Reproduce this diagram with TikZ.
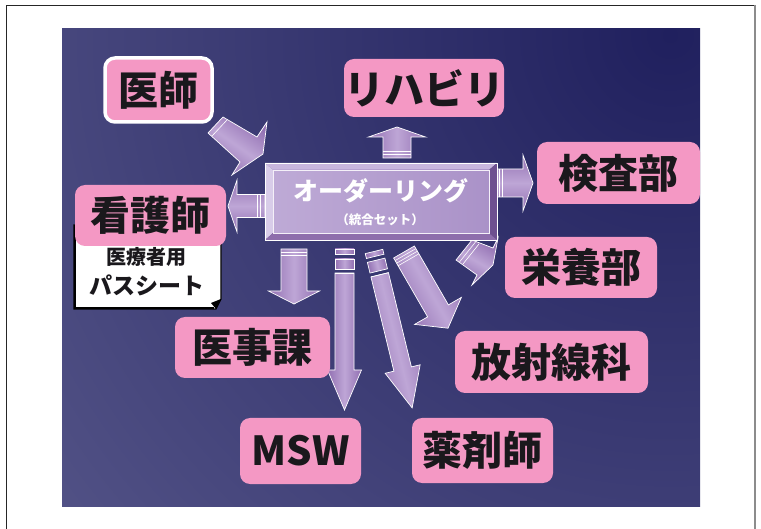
\documentclass[tikz,border=0pt]{standalone}
\usepackage{fontspec}
\setmainfont{Noto Sans CJK JP}
\definecolor{pinkbox}{RGB}{244,152,196}
\definecolor{inktext}{RGB}{26,24,28}
\definecolor{arrL}{RGB}{190,166,214}
\definecolor{arrD}{RGB}{146,112,178}
\definecolor{bgL}{RGB}{92,92,142}
\definecolor{bgD}{RGB}{32,32,94}
\definecolor{bevT}{RGB}{200,182,222}
\definecolor{bevL}{RGB}{216,204,233}
\definecolor{bevR}{RGB}{110,80,144}
\definecolor{bevB}{RGB}{142,110,172}
\definecolor{faceL}{RGB}{190,170,214}
\definecolor{faceR}{RGB}{170,146,200}
\tikzset{
  pinklabel/.style={fill=pinkbox, rounded corners=10pt, inner sep=0pt,
    text=inktext, font=\bfseries\fontsize{40}{40}\selectfont},
  arrowbody/.style={draw=white, line width=0.7pt, top color=arrD, bottom color=arrD, middle color=arrL},
  stripeline/.style={white, line width=0.6pt},
  whitetext/.style={text=white, inner sep=0pt}
}
\newcommand\blkarrow[8]{%
  \begin{scope}[shift={(#1,#2)}, rotate=#3]
    \path[arrowbody, shading angle=#3]
      (0,-#5) -- ({#4-#7},-#5) -- ({#4-#7},-#6) -- (#4,0) -- ({#4-#7},#6) -- ({#4-#7},#5) -- (0,#5) -- cycle;
    \foreach \p in {#8} {\draw[stripeline] (\p,-#5) -- (\p,#5);}
  \end{scope}}
\newcommand\blkseg[6]{%
  \begin{scope}[shift={(#1,#2)}, rotate=#3]
    \path[arrowbody, shading angle=#3] (#4,-#6) rectangle (#5,#6);
  \end{scope}}
\begin{document}
\begin{tikzpicture}[x=1pt, y=-1pt]
\useasboundingbox (0,0) rectangle (761,529);
% outer frame
\draw[black!85, line width=0.8pt] (6,529) -- (6,5) -- (755,5);
\draw[black!45, line width=1.2pt] (755,5) -- (755,529);
% background panel
\begin{scope}
  \clip (62,29) rectangle (700,506);
  \fill[bgL] (62,29) rectangle (700,506);
  \shade[inner color=bgD, outer color=bgL] (670,35) circle (950);
\end{scope}
% note paper under 看護師
\path[fill=white, draw=black, line width=1.2pt] (74,225) -- (221,225) -- (221,299) -- (216,309) -- (74,309) -- cycle;
\draw[black, line width=2.6pt] (75,225) -- (75,308) -- (214,308);
\fill[black] (211,303) -- (221,299) -- (216,309) -- cycle;
\node[inner sep=0pt, text=inktext, font=\bfseries\fontsize{20}{20}\selectfont] (noteA) at (146,257) {医療者用};
\node[inner sep=0pt, text=inktext, font=\bfseries\fontsize{23}{23}\selectfont] (noteB) at (147,285) {パスシート};
% arrows
\path[arrowbody, shading angle=-35] (223,117) -- (257,137) -- (267,122) -- (263,154) -- (232,175) -- (240,162) -- (208,133) -- cycle;
\draw[stripeline] (212,136) -- (227,120);
\path[arrowbody, shading angle=-30] (472,240) -- (493,248) -- (498,238) -- (493,265) -- (472,285) -- (477,275) -- (456,260) -- cycle;
\draw[stripeline] (459.5,262) -- (475.5,242);
\draw[stripeline] (463,264) -- (479,244);
\blkarrow{397}{158}{90}{31}{14}{28.5}{10}{4,7}
\blkarrow{497}{183}{0}{36}{14}{28}{10}{2,5}
\blkarrow{265}{206}{180}{37}{11.5}{26}{9}{5,8}
\blkarrow{294}{249}{-90}{55}{13}{25.5}{13}{3,6}
\blkseg{344.5}{249}{-90}{0}{5}{9.5}
\blkseg{344.5}{249}{-90}{10}{20}{9.5}
\blkarrow{344.5}{273}{-90}{137}{9.5}{17}{40}{0}
\blkseg{374}{251.5}{-76.3}{0}{5}{9}
\blkseg{374}{251.5}{-76.3}{9}{20}{9}
\blkarrow{379.7}{274.8}{-76.3}{137}{9}{18}{40}{0}
\blkarrow{404}{252}{-60}{88}{12}{27}{20}{3,6,9}
% central bevelled box
\fill[bevT] (265,163) -- (497,163) -- (489,170) -- (273,170) -- cycle;
\fill[bevL] (265,163) -- (273,170) -- (273,233) -- (265,240) -- cycle;
\fill[bevR] (497,163) -- (497,240) -- (489,233) -- (489,170) -- cycle;
\fill[bevB] (265,240) -- (273,233) -- (489,233) -- (497,240) -- cycle;
\shade[left color=faceL, right color=faceR] (273,170) rectangle (489,233);
\draw[white!80!bevT, line width=0.5pt] (273,170) rectangle (489,233);
\draw[white, line width=0.7pt] (265,163) rectangle (497,240);
\node[whitetext, font=\bfseries\fontsize{25}{25}\selectfont] (order) at (381,191) {オーダーリング};
\node[whitetext, font=\bfseries\fontsize{12.5}{12.5}\selectfont] (orderSub) at (380,220) {（統合セット）};
% pink labels
\node[pinklabel, minimum width=107, minimum height=64, draw=white, line width=3.5pt] (ishi) at (158.5,90) {医師};
\node[pinklabel, minimum width=134, minimum height=58] (reha) at (424,88) {リハビリ};
\node[pinklabel, minimum width=163, minimum height=62] (kensa) at (618.5,173) {検査部};
\node[pinklabel, minimum width=152, minimum height=61] (eiyo) at (581,267.5) {栄養部};
\node[pinklabel, minimum width=193, minimum height=62] (hosha) at (551.5,362) {放射線科};
\node[pinklabel, minimum width=155, minimum height=61] (iji) at (252.5,347.5) {医事課};
\node[pinklabel, minimum width=121, minimum height=66] (msw) at (300.5,451) {MSW};
\node[pinklabel, minimum width=141, minimum height=65] (yaku) at (482.5,450.5) {薬剤師};
\node[pinklabel, minimum width=151, minimum height=61] (kango) at (150.5,215.5) {看護師};
\end{tikzpicture}
\end{document}
